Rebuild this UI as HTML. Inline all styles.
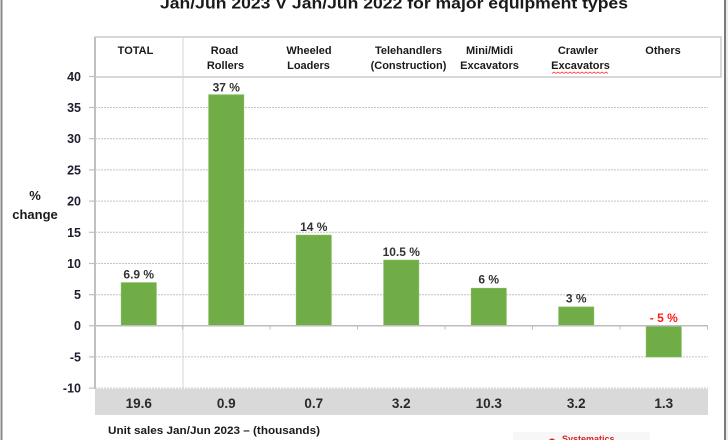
<!DOCTYPE html>
<html>
<head>
<meta charset="utf-8">
<style>
  html,body{margin:0;padding:0;background:#fff;}
  svg{display:block;}
  text{font-family:"Liberation Sans",Arial,sans-serif;font-weight:bold;}
</style>
</head>
<body>
<svg width="728" height="440" viewBox="0 0 728 440" xmlns="http://www.w3.org/2000/svg">
  <rect x="0" y="0" width="728" height="440" fill="#ffffff"/>
  <!-- frame borders -->
  <rect x="0.5" y="0" width="2" height="440" fill="#8a8a8a"/>
  <rect x="724" y="0" width="2" height="440" fill="#7a7a7a"/>
  <rect x="726" y="0" width="2" height="440" fill="#ececec"/>

  <!-- title -->
  <text x="160" y="8.5" font-size="16" fill="#1a1a1a" textLength="468" lengthAdjust="spacingAndGlyphs">Jan/Jun 2023  V  Jan/Jun 2022 for major equipment types</text>

  <!-- header box -->
  <rect x="95" y="37" width="626" height="40" fill="none" stroke="#cacaca" stroke-width="1.5"/>

  <!-- gridlines dashed -->
  <g stroke="#c4c4c4" stroke-width="1" stroke-dasharray="2,1">
    <line x1="95" y1="107.5" x2="708" y2="107.5"/>
    <line x1="95" y1="138.7" x2="708" y2="138.7"/>
    <line x1="95" y1="169.9" x2="708" y2="169.9"/>
    <line x1="95" y1="201.1" x2="708" y2="201.1"/>
    <line x1="95" y1="232.3" x2="708" y2="232.3"/>
    <line x1="95" y1="263.5" x2="708" y2="263.5"/>
    <line x1="95" y1="294.7" x2="708" y2="294.7"/>
    <line x1="95" y1="356.9" x2="708" y2="356.9"/>
    <line x1="95" y1="388.1" x2="708" y2="388.1"/>
  </g>

  <!-- gray band -->
  <rect x="95" y="389" width="613" height="26" fill="#d9d9d9"/>

  <!-- vertical separator -->
  <line x1="183" y1="37" x2="183" y2="389" stroke="#d4d4d4" stroke-width="1"/>

  <!-- y axis -->
  <line x1="95" y1="37" x2="95" y2="389" stroke="#c0c0c0" stroke-width="2"/>
  <g stroke="#c0c0c0" stroke-width="1.2">
    <line x1="89" y1="76.5" x2="95" y2="76.5"/>
    <line x1="89" y1="107.5" x2="95" y2="107.5"/>
    <line x1="89" y1="138.7" x2="95" y2="138.7"/>
    <line x1="89" y1="169.9" x2="95" y2="169.9"/>
    <line x1="89" y1="201.1" x2="95" y2="201.1"/>
    <line x1="89" y1="232.3" x2="95" y2="232.3"/>
    <line x1="89" y1="263.5" x2="95" y2="263.5"/>
    <line x1="89" y1="294.7" x2="95" y2="294.7"/>
    <line x1="89" y1="325.7" x2="95" y2="325.7"/>
    <line x1="89" y1="356.9" x2="95" y2="356.9"/>
    <line x1="89" y1="388.1" x2="95" y2="388.1"/>
  </g>

  <!-- bars -->
  <g fill="#70ad47" stroke="#7cb856" stroke-width="0.8">
    <rect x="121.25" y="282.7" width="35" height="43"/>
    <rect x="208.75" y="94.8" width="35" height="230.9"/>
    <rect x="296.25" y="235.2" width="35" height="90.5"/>
    <rect x="383.75" y="260.2" width="35" height="65.5"/>
    <rect x="471.25" y="288.3" width="35" height="37.4"/>
    <rect x="558.75" y="307" width="35" height="18.7"/>
    <rect x="646.25" y="325.7" width="35" height="31.2"/>
  </g>

  <!-- zero line and ticks -->
  <line x1="95" y1="325.7" x2="708" y2="325.7" stroke="#bdbdbd" stroke-width="1.5"/>
  <g stroke="#bdbdbd" stroke-width="1">
    <line x1="182.5" y1="325.7" x2="182.5" y2="329.5"/>
    <line x1="270" y1="325.7" x2="270" y2="329.5"/>
    <line x1="357.5" y1="325.7" x2="357.5" y2="329.5"/>
    <line x1="445" y1="325.7" x2="445" y2="329.5"/>
    <line x1="532.5" y1="325.7" x2="532.5" y2="329.5"/>
    <line x1="620" y1="325.7" x2="620" y2="329.5"/>
    <line x1="707.5" y1="325.7" x2="707.5" y2="329.5"/>
  </g>

  <!-- y labels -->
  <g font-size="12.5" fill="#1e1e2e" text-anchor="end">
    <text x="81" y="81">40</text>
    <text x="81" y="112">35</text>
    <text x="81" y="143.2">30</text>
    <text x="81" y="174.4">25</text>
    <text x="81" y="205.6">20</text>
    <text x="81" y="236.8">15</text>
    <text x="81" y="268">10</text>
    <text x="81" y="299.2">5</text>
    <text x="81" y="330.2">0</text>
    <text x="81" y="361.4">-5</text>
    <text x="81" y="392.6">-10</text>
  </g>

  <!-- y axis title -->
  <g font-size="13" fill="#1a1a1a" text-anchor="middle">
    <text x="35" y="200">%</text>
    <text x="35" y="219">change</text>
  </g>

  <!-- header labels -->
  <g font-size="11" fill="#1a1a1a" text-anchor="middle">
    <text x="135.5" y="54">TOTAL</text>
    <text x="224.5" y="54">Road</text>
    <text x="225.5" y="69">Rollers</text>
    <text x="309" y="54">Wheeled</text>
    <text x="308.5" y="69">Loaders</text>
    <text x="408.5" y="54">Telehandlers</text>
    <text x="408.5" y="69">(Construction)</text>
    <text x="489.5" y="54">Mini/Midi</text>
    <text x="489.5" y="69">Excavators</text>
    <text x="578" y="54">Crawler</text>
    <text x="580.5" y="69">Excavators</text>
    <text x="663" y="54">Others</text>
  </g>
  <polyline points="552,73.5 554,72 556,73.5 558,72 560,73.5 562,72 564,73.5 566,72 568,73.5 570,72 572,73.5 574,72 576,73.5 578,72 580,73.5 582,72 584,73.5 586,72 588,73.5 590,72 592,73.5 594,72 596,73.5 598,72 600,73.5 602,72 604,73.5 606,72 608,73.5" fill="none" stroke="#ff4a4a" stroke-width="0.8"/>

  <!-- value labels -->
  <g font-size="12" fill="#333" text-anchor="middle">
    <text x="138.75" y="278.5">6.9 %</text>
    <text x="226.25" y="91.5">37 %</text>
    <text x="313.75" y="231">14 %</text>
    <text x="401.25" y="256">10.5 %</text>
    <text x="488.75" y="283.5">6 %</text>
    <text x="576.25" y="302.5">3 %</text>
    <text x="663.75" y="322" fill="#ff1a1a">- 5 %</text>
  </g>

  <!-- bottom unit values -->
  <g font-size="13.5" fill="#2a2a2a" text-anchor="middle">
    <text x="138.75" y="408">19.6</text>
    <text x="226.25" y="408">0.9</text>
    <text x="313.75" y="408">0.7</text>
    <text x="401.25" y="408">3.2</text>
    <text x="488.75" y="408">10.3</text>
    <text x="576.25" y="408">3.2</text>
    <text x="663.75" y="408">1.3</text>
  </g>

  <text x="108" y="434" font-size="11" fill="#1a1a1a" textLength="212" lengthAdjust="spacingAndGlyphs">Unit sales Jan/Jun 2023 –  (thousands)</text>

  <!-- logo fragment -->
  <rect x="513" y="432" width="137" height="8" fill="#f7f7f7"/>
  <circle cx="552" cy="442" r="3.5" fill="#e02020"/>
  <text x="562" y="442" font-size="9" fill="#e02020">Systematics</text>
</svg>
</body>
</html>
